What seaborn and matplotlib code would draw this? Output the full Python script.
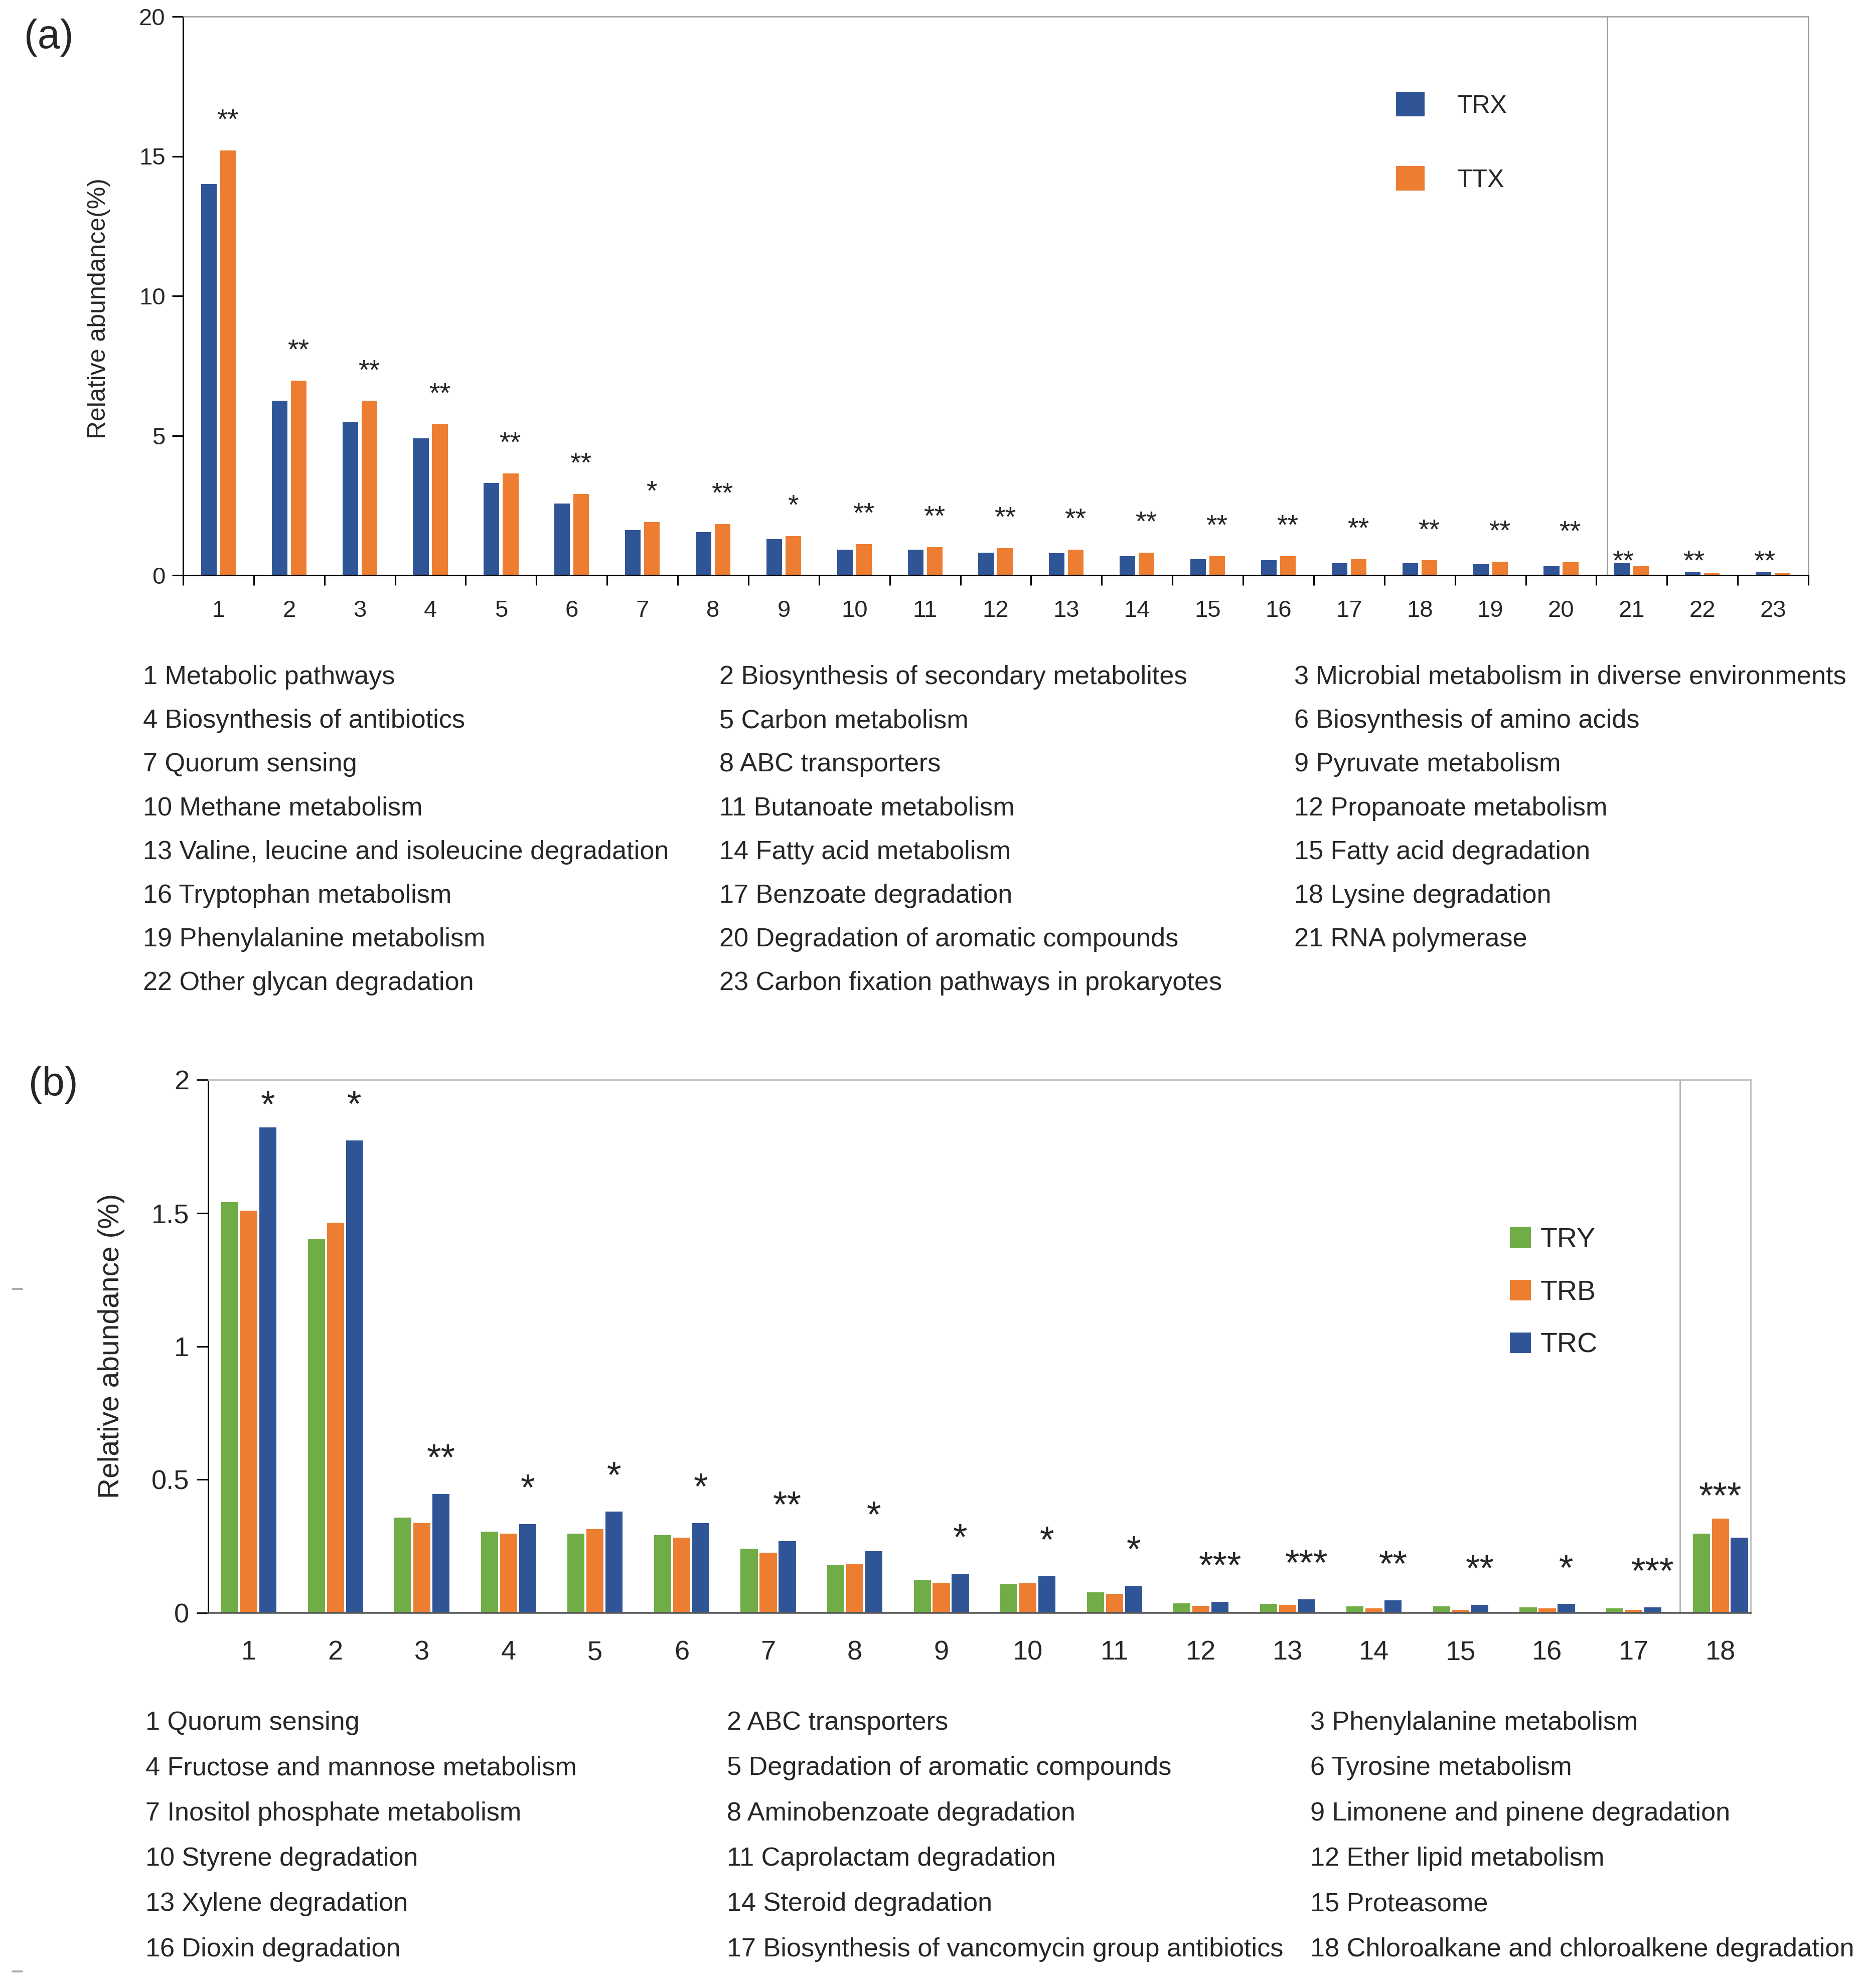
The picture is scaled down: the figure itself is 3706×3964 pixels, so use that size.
import matplotlib
matplotlib.use("Agg")
import matplotlib.pyplot as plt
import seaborn as sns
import pandas as pd

# ---- panel (a): TRX vs TTX ----
pathways_a = [
    "Metabolic pathways", "Biosynthesis of secondary metabolites",
    "Microbial metabolism in diverse environments", "Biosynthesis of antibiotics",
    "Carbon metabolism", "Biosynthesis of amino acids", "Quorum sensing",
    "ABC transporters", "Pyruvate metabolism", "Methane metabolism",
    "Butanoate metabolism", "Propanoate metabolism",
    "Valine, leucine and isoleucine degradation", "Fatty acid metabolism",
    "Fatty acid degradation", "Tryptophan metabolism", "Benzoate degradation",
    "Lysine degradation", "Phenylalanine metabolism",
    "Degradation of aromatic compounds", "RNA polymerase",
    "Other glycan degradation", "Carbon fixation pathways in prokaryotes",
]
trx = [14.0, 6.24, 5.47, 4.90, 3.30, 2.57, 1.61, 1.54, 1.29, 0.91, 0.91, 0.81,
       0.79, 0.69, 0.57, 0.53, 0.43, 0.43, 0.39, 0.33, 0.43, 0.11, 0.11]
ttx = [15.21, 6.97, 6.24, 5.41, 3.64, 2.91, 1.90, 1.84, 1.40, 1.11, 1.01, 0.97,
       0.91, 0.81, 0.69, 0.69, 0.57, 0.53, 0.49, 0.46, 0.33, 0.09, 0.09]
sig_a = ["**", "**", "**", "**", "**", "**", "*", "**", "*", "**", "**", "**",
         "**", "**", "**", "**", "**", "**", "**", "**", "**", "**", "**"]
groups_a = ["TRX", "TTX"]

# ---- panel (b): TRY / TRB / TRC ----
pathways_b = [
    "Quorum sensing", "ABC transporters", "Phenylalanine metabolism",
    "Fructose and mannose metabolism", "Degradation of aromatic compounds",
    "Tyrosine metabolism", "Inositol phosphate metabolism",
    "Aminobenzoate degradation", "Limonene and pinene degradation",
    "Styrene degradation", "Caprolactam degradation", "Ether lipid metabolism",
    "Xylene degradation", "Steroid degradation", "Proteasome",
    "Dioxin degradation", "Biosynthesis of vancomycin group antibiotics",
    "Chloroalkane and chloroalkene degradation",
]
try_vals = [1.541, 1.403, 0.357, 0.305, 0.297, 0.291, 0.240, 0.179, 0.122,
            0.107, 0.077, 0.036, 0.033, 0.024, 0.024, 0.020, 0.017, 0.297]
trb_vals = [1.509, 1.464, 0.336, 0.297, 0.314, 0.282, 0.225, 0.185, 0.113,
            0.111, 0.071, 0.026, 0.030, 0.017, 0.011, 0.017, 0.011, 0.354]
trc_vals = [1.821, 1.772, 0.446, 0.333, 0.380, 0.336, 0.269, 0.231, 0.147,
            0.138, 0.102, 0.041, 0.050, 0.047, 0.030, 0.033, 0.020, 0.282]
sig_b = ["*", "*", "**", "*", "*", "*", "**", "*", "*", "*", "*", "***",
         "***", "**", "**", "*", "***", "***"]
groups_b = ["TRY", "TRB", "TRC"]

BLUE = "#2F5597"
ORANGE = "#ED7D31"
GREEN = "#70AD47"

sns.set_style("ticks")
plt.rcParams["font.family"] = ["Liberation Sans", "DejaVu Sans"]

W, H = 3706, 3964
DPI = 200
fig = plt.figure(figsize=(W / DPI, H / DPI), dpi=DPI)


def fx(px):
    return px / W


def fy(py):
    return 1 - py / H


# ================= panel (a) =================
cats_a = [str(i + 1) for i in range(len(trx))]
df_a = pd.DataFrame({
    "cat": cats_a * 2,
    "value": trx + ttx,
    "group": ["TRX"] * len(trx) + ["TTX"] * len(ttx),
})
ax_a = fig.add_axes([fx(365), fy(1147), fx(3605) - fx(365), fy(33) - fy(1147)])
sns.barplot(data=df_a, x="cat", y="value", hue="group", order=cats_a,
            hue_order=groups_a, palette={"TRX": BLUE, "TTX": ORANGE},
            saturation=1, width=0.54, gap=0.18, linewidth=0, ax=ax_a)
ax_a.set_xlim(-0.5, len(cats_a) - 0.5)
ax_a.set_ylim(0, 20)
ax_a.set_yticks([0, 5, 10, 15, 20])
ax_a.set_xlabel("")
ax_a.set_ylabel("Relative abundance(%)", fontsize=18, va="center")
ax_a.yaxis.set_label_coords(-0.0519, 0.4776)
ax_a.tick_params(axis="y", length=8, width=1.1, pad=4.7, labelsize=17, color="black")
ax_a.tick_params(axis="x", which="major", length=0, pad=17.5, labelsize=17)
ax_a.set_xticks([i - 0.5 for i in range(len(cats_a) + 1)], minor=True)
ax_a.tick_params(axis="x", which="minor", length=7.2, width=1.1, color="black")
for side in ["left", "bottom"]:
    ax_a.spines[side].set_color("black")
    ax_a.spines[side].set_linewidth(1.1)
for side in ["top", "right"]:
    ax_a.spines[side].set_visible(True)
    ax_a.spines[side].set_color("#9A9A9A")
    ax_a.spines[side].set_linewidth(0.9)
ax_a.axvline(19.65, color="#9A9A9A", lw=0.9)

right_max_a = max(trx[20:] + ttx[20:])
for i, s in enumerate(sig_a):
    top = max(trx[i], ttx[i])
    if i < 20:
        ax_a.annotate(s, (i + 0.13, top), xytext=(0, 16), textcoords="offset points",
                      ha="center", va="baseline", fontsize=20)
    else:
        ax_a.annotate(s, (i - 0.12, right_max_a), xytext=(0, -4.5),
                      textcoords="offset points", ha="center", va="baseline", fontsize=20)

handles, labels = ax_a.get_legend_handles_labels()
ax_a.legend(handles, labels, loc="upper left",
            bbox_to_anchor=(fx(2783), fy(183)), bbox_transform=fig.transFigure,
            frameon=False, fontsize=18, handlelength=1.14, handleheight=1.14,
            handletextpad=1.3, labelspacing=1.93, borderpad=0, borderaxespad=0)

# list of pathway names under panel (a)
cols_x = [285, 1434, 2580]
for i, name in enumerate(pathways_a):
    r, c = divmod(i, 3)
    fig.text(fx(cols_x[c]), fy(1364 + r * 87.2), f"{i + 1} {name}",
             ha="left", va="baseline", fontsize=18.8)

# ================= panel (b) =================
cats_b = [str(i + 1) for i in range(len(try_vals))]
df_b = pd.DataFrame({
    "cat": cats_b * 3,
    "value": try_vals + trb_vals + trc_vals,
    "group": ["TRY"] * len(try_vals) + ["TRB"] * len(trb_vals) + ["TRC"] * len(trc_vals),
})
ax_b = fig.add_axes([fx(415), fy(3216), fx(3490) - fx(415), fy(2153) - fy(3216)])
sns.barplot(data=df_b, x="cat", y="value", hue="group", order=cats_b,
            hue_order=groups_b, palette={"TRY": GREEN, "TRB": ORANGE, "TRC": BLUE},
            saturation=1, width=0.66, gap=0.1, linewidth=0, ax=ax_b)
ax_b.set_xlim(-0.47, 17.35)
ax_b.set_ylim(0, 2)
ax_b.set_yticks([0, 0.5, 1, 1.5, 2])
ax_b.set_yticklabels(["0", "0.5", "1", "1.5", "2"])
ax_b.set_xlabel("")
ax_b.set_ylabel("Relative abundance (%)", fontsize=20.5, va="center")
ax_b.yaxis.set_label_coords(-0.0628, 0.5)
ax_b.tick_params(axis="y", length=8.3, width=1.0, pad=5.4, labelsize=19.5, color="black")
ax_b.tick_params(axis="x", length=0, pad=19.5, labelsize=19.5)
ax_b.spines["left"].set_color("black")
ax_b.spines["left"].set_linewidth(1.0)
ax_b.spines["bottom"].set_color("#5A5A5A")
ax_b.spines["bottom"].set_linewidth(1.3)
for side in ["top", "right"]:
    ax_b.spines[side].set_visible(True)
    ax_b.spines[side].set_color("#BFBFBF")
    ax_b.spines[side].set_linewidth(1.0)
ax_b.axvline(16.53, color="#A6A6A6", lw=0.9)

low_star = {0: 7.5, 17: 7.5}
for i, s in enumerate(sig_b):
    top = max(try_vals[i], trb_vals[i], trc_vals[i])
    dx = 0.0 if i == len(sig_b) - 1 else 0.22
    ax_b.annotate(s, (i + dx, top), xytext=(0, low_star.get(i, 17.3)),
                  textcoords="offset points", ha="center", va="baseline", fontsize=26.5)

handles, labels = ax_b.get_legend_handles_labels()
ax_b.legend(handles, labels, loc="upper left",
            bbox_to_anchor=(fx(3010), fy(2447)), bbox_transform=fig.transFigure,
            frameon=False, fontsize=20, handlelength=0.75, handleheight=0.75,
            handletextpad=0.35, labelspacing=0.95, borderpad=0, borderaxespad=0)

cols_x = [290, 1449, 2612]
for i, name in enumerate(pathways_b):
    r, c = divmod(i, 3)
    fig.text(fx(cols_x[c]), fy(3449 + r * 90.3), f"{i + 1} {name}",
             ha="left", va="baseline", fontsize=18.8)

# panel letters
fig.text(fx(97), fy(75), "(a)", ha="center", va="center", fontsize=29)
fig.text(fx(106), fy(2163), "(b)", ha="center", va="center", fontsize=29)

# small grey marks on the left margin
for yy in [2570, 3931]:
    fig.add_artist(plt.Line2D([fx(25), fx(44)], [fy(yy), fy(yy)],
                              color="#AAAAAA", lw=1.4))

fig.savefig("out.png", dpi=DPI)
